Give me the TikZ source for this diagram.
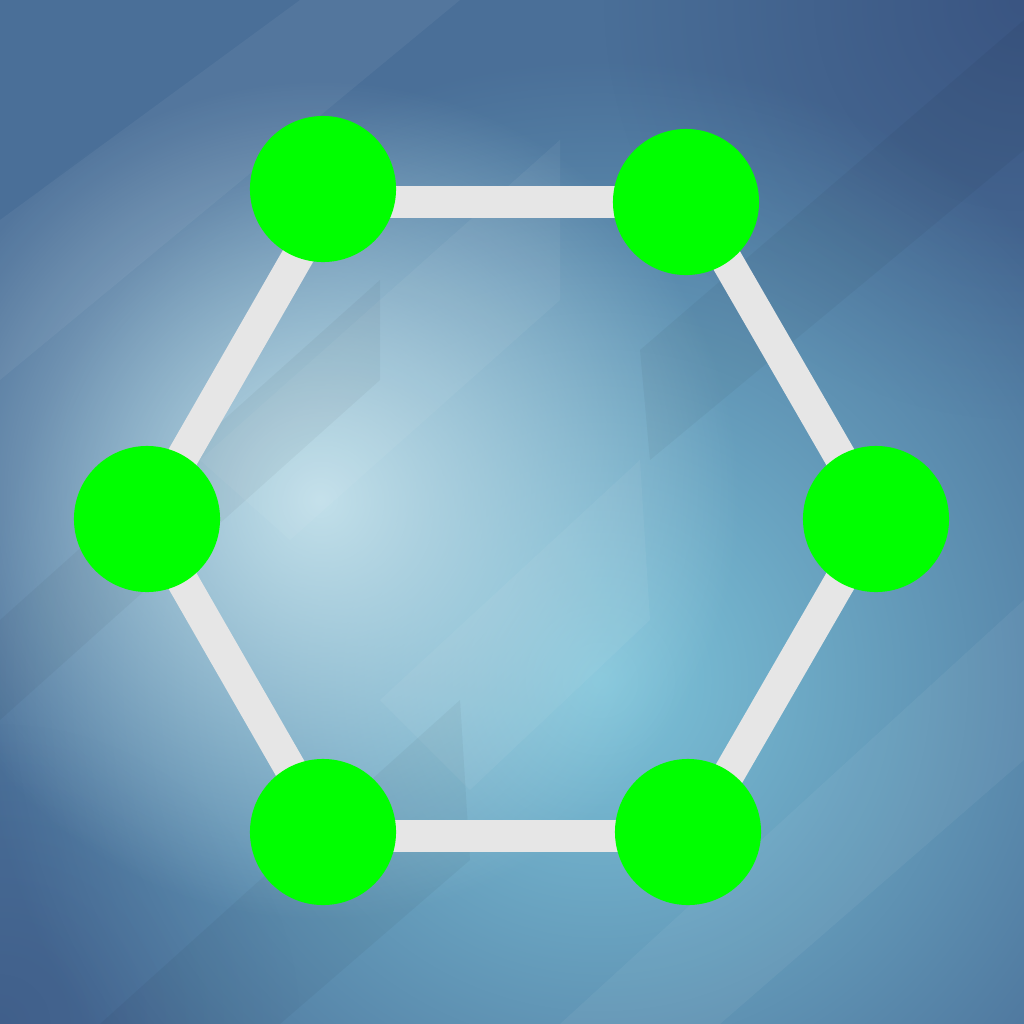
\documentclass[tikz,border=0pt]{standalone}
\usetikzlibrary{fadings}
\tikzfading[name=softspot, inner color=transparent!0, outer color=transparent!100]
\begin{document}
\begin{tikzpicture}[x=0.01cm,y=-0.01cm,
  vertex/.style={circle,fill=nodegreen,draw=none,minimum size=1.46cm,inner sep=0pt},
  edge/.style={draw=edgegrey,line width=0.32cm},
  facet/.style={fill=white,opacity=0.05,draw=none}]
\definecolor{nodegreen}{HTML}{00FF00}
\definecolor{edgegrey}{HTML}{E6E6E6}
\definecolor{bgbase}{HTML}{4A6F98}
\definecolor{bgdark}{HTML}{3A5582}
\definecolor{bgcyan}{HTML}{7DC4DA}
\definecolor{bglight}{HTML}{C2E0EA}
\useasboundingbox (0,0) rectangle (1024,1024);
\begin{scope}
\clip (0,0) rectangle (1024,1024);
\fill[bgbase] (0,0) rectangle (1024,1024);
\fill[bgdark,path fading=softspot] (1024,0) circle (420);
\fill[bgdark,path fading=softspot,opacity=0.6] (0,1024) circle (300);
\fill[bgcyan,path fading=softspot] (600,680) circle (620);
\fill[bglight,path fading=softspot] (320,500) circle (420);
% low-poly facets
\fill[facet] (0,220) -- (300,0) -- (460,0) -- (0,380) -- cycle;
\fill[facet] (200,460) -- (560,140) -- (560,300) -- (290,540) -- cycle;
\fill[facet] (380,700) -- (640,460) -- (650,620) -- (470,790) -- cycle;
\fill[facet] (560,1024) -- (1024,600) -- (1024,760) -- (720,1024) -- cycle;
\fill[black,opacity=0.04] (0,620) -- (380,280) -- (380,380) -- (0,720) -- cycle;
\fill[black,opacity=0.04] (640,350) -- (1024,20) -- (1024,150) -- (650,460) -- cycle;
\fill[black,opacity=0.04] (100,1024) -- (460,700) -- (470,860) -- (280,1024) -- cycle;
\end{scope}
% hexagon corners carrying the edges
\coordinate (pa) at (329,202);
\coordinate (pb) at (693,202);
\coordinate (pc) at (876,519);
\coordinate (pd) at (693,836);
\coordinate (pe) at (329,836);
\coordinate (pf) at (147,519);
\draw[edge] (pa) -- (pb);
\draw[edge] (pb) -- (pc);
\draw[edge] (pc) -- (pd);
\draw[edge] (pd) -- (pe);
\draw[edge] (pe) -- (pf);
\draw[edge] (pf) -- (pa);
\node[vertex] (a) at (323,189) {};
\node[vertex] (b) at (686,202) {};
\node[vertex] (c) at (876,519) {};
\node[vertex] (d) at (688,832) {};
\node[vertex] (e) at (323,832) {};
\node[vertex] (f) at (147,519) {};
\end{tikzpicture}
\end{document}
